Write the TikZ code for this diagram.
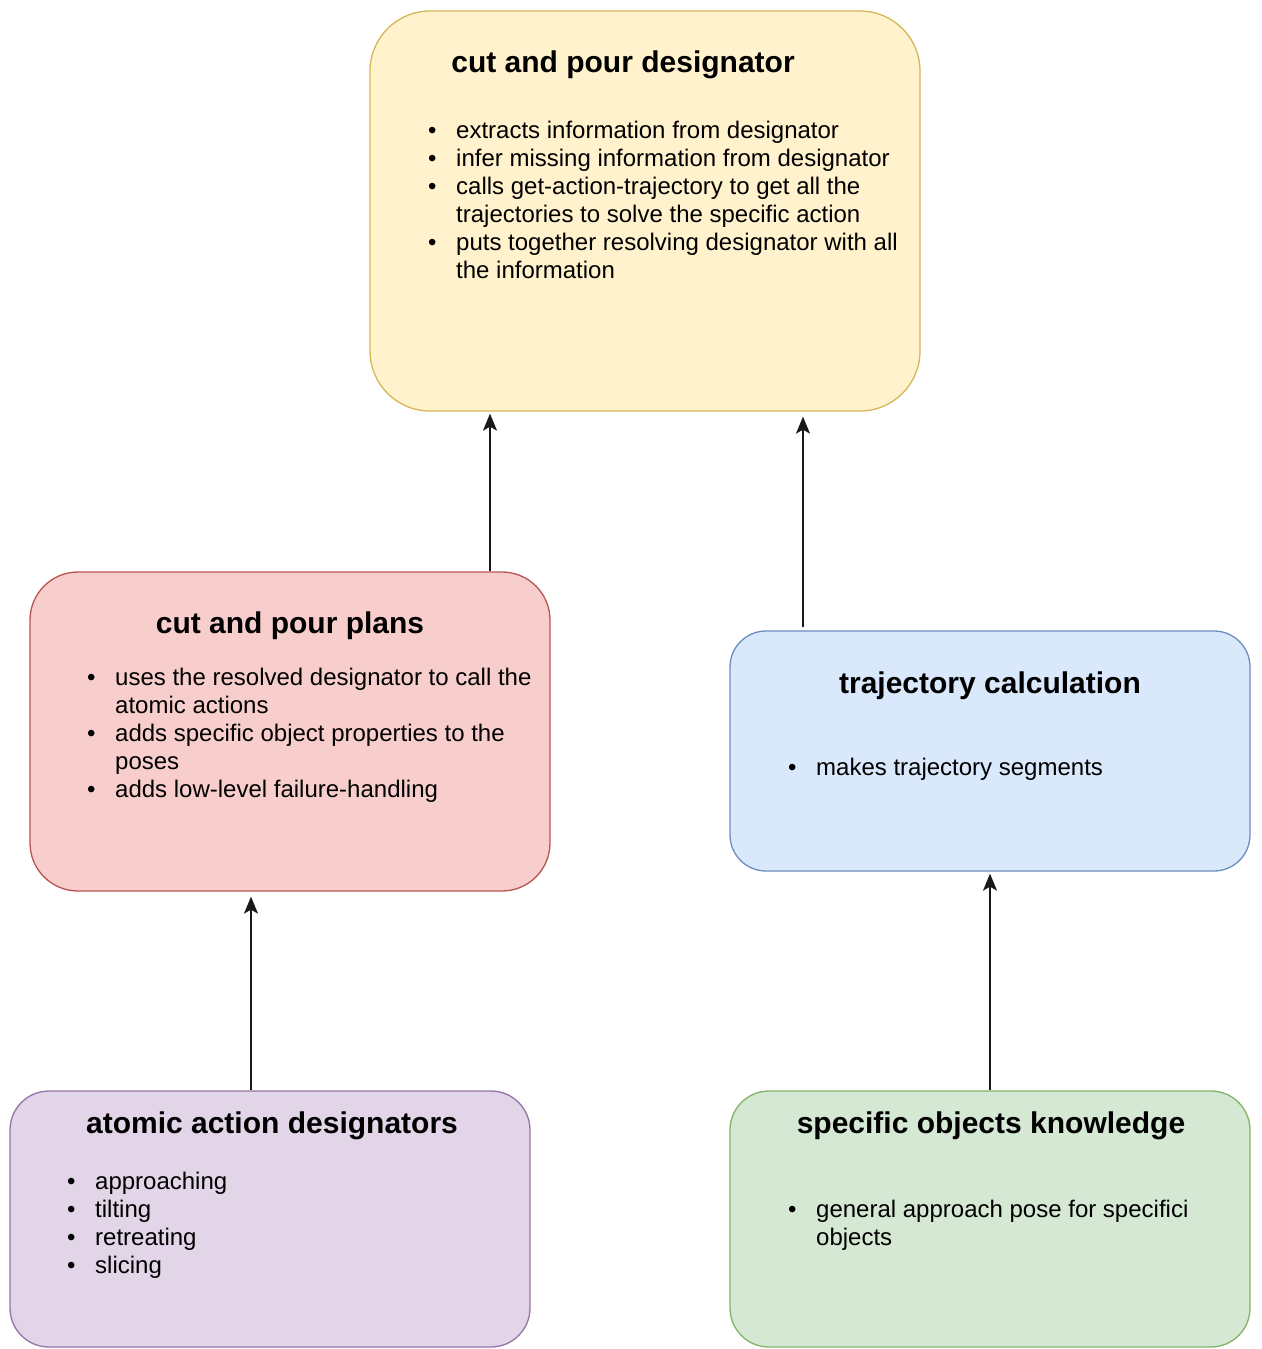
\documentclass[tikz,border=0pt]{standalone}
\usepackage{fontspec}
\setmainfont{Liberation Sans}
\usetikzlibrary{arrows.meta,positioning}
\definecolor{yelbg}{HTML}{FFF2CC}
\definecolor{yelln}{HTML}{D6B656}
\definecolor{redbg}{HTML}{F8CECC}
\definecolor{redln}{HTML}{B85450}
\definecolor{blubg}{HTML}{DAE8FC}
\definecolor{bluln}{HTML}{6C8EBF}
\definecolor{purbg}{HTML}{E1D5E7}
\definecolor{purln}{HTML}{9673A6}
\definecolor{grnbg}{HTML}{D5E8D4}
\definecolor{grnln}{HTML}{82B366}
\tikzset{
  box/.style={rounded corners=#1,line width=1.3pt,minimum width=520pt,inner sep=0pt},
  ttl/.style={font=\fontsize{30}{36}\selectfont\bfseries,anchor=base,inner sep=0pt},
  txt/.style={font=\fontsize{24}{28}\selectfont,align=left,anchor=base west,inner sep=0pt},
  ar/.style={-{Stealth[length=17pt,width=14pt,inset=4pt]},line width=1.5pt,black!90}
}
\newcommand{\bl}{\makebox[28pt][l]{\textbullet}}
\newcommand{\nb}{\hspace*{28pt}}

\begin{document}
\begin{tikzpicture}[x=1pt,y=-1pt]
\useasboundingbox (0,0) rectangle (1261,1349);
% boxes
\node[box=60pt,draw=yelln,fill=yelbg,minimum width=550pt,minimum height=400pt] (desig) at (645,211) {};
\node[box=48pt,draw=redln,fill=redbg,minimum height=319pt] (plans) at (290,731.5) {};
\node[box=36pt,draw=bluln,fill=blubg,minimum height=240pt] (traj) at (990,751) {};
\node[box=39pt,draw=purln,fill=purbg,minimum height=256pt] (atomic) at (270,1219) {};
\node[box=39pt,draw=grnln,fill=grnbg,minimum height=256pt] (know) at (990,1219) {};
% titles
\node[ttl] (desigT) at (623,72) {cut and pour designator};
\node[ttl] (plansT) at (290,633) {cut and pour plans};
\node[ttl] (trajT) at (990,693) {trajectory calculation};
\node[ttl] (atomicT) at (272,1133) {atomic action designators};
\node[ttl] (knowT) at (991,1133) {specific objects knowledge};
% bullet lists (placed at the baseline of their last line)
\node[txt] (desigL) at (428,278) {\bl extracts information from designator\\
  \bl infer missing information from designator\\
  \bl calls get-action-trajectory to get all the\\
  \nb trajectories to solve the specific action\\
  \bl puts together resolving designator with all\\
  \nb the information};
\node[txt] (plansL) at (87,797) {\bl uses the resolved designator to call the\\
  \nb atomic actions\\
  \bl adds specific object properties to the\\
  \nb poses\\
  \bl adds low-level failure-handling};
\node[txt] (trajL) at (788,775) {\bl makes trajectory segments};
\node[txt] (atomicL) at (67,1273) {\bl approaching\\ \bl tilting\\ \bl retreating\\ \bl slicing};
\node[txt] (knowL) at (788,1245) {\bl general approach pose for specifici\\
  \nb objects};
% arrows
\coordinate (p1) at ([xshift=200pt]plans.north);
\coordinate (p2) at ([xshift=-187pt,yshift=3pt]traj.north);
\coordinate (p3) at ([xshift=-19pt]atomic.north);
\draw[ar,shorten >=2pt] (p1) -- (p1 |- desig.south);
\draw[ar,shorten >=5pt] (p2) -- (p2 |- desig.south);
\draw[ar,shorten >=5pt] (p3) -- (p3 |- plans.south);
\draw[ar,shorten >=2pt] (know.north) -- (traj.south);
\end{tikzpicture}
\end{document}
